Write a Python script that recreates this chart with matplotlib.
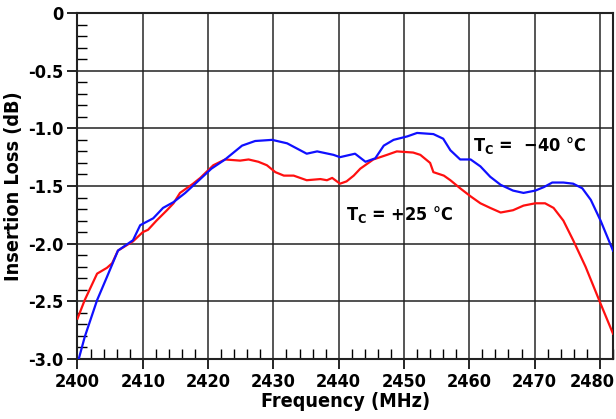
import matplotlib
matplotlib.use("Agg")
import matplotlib.pyplot as plt
import matplotlib.transforms as mtransforms
from matplotlib.ticker import MultipleLocator, FixedLocator

plt.rcParams['font.family'] = ['DejaVu Sans']
plt.rcParams['font.stretch'] = 'condensed'
plt.rcParams['font.weight'] = 'bold'
plt.rcParams['axes.unicode_minus'] = False
plt.rcParams['mathtext.default'] = 'regular'

# T_C = -40 C (blue)
freq_cold = [2400, 2401.1, 2403, 2404.5, 2406.2, 2408.5, 2409.6, 2411.6, 2413.1, 2414.7,
             2416.5, 2418.8, 2420.5, 2422.6, 2425.2, 2427.2, 2429.8, 2432.1, 2434.1, 2435.1,
             2436.7, 2439.2, 2440.2, 2442.5, 2444.1, 2445.6, 2446.9, 2448.4, 2450.5, 2452,
             2454.5, 2456, 2457.1, 2458.6, 2460.2, 2461.7, 2463.2, 2464.8, 2466.7, 2468.3,
             2470.1, 2471.4, 2472.7, 2474.4, 2475.9, 2477.3, 2478.6, 2480.1, 2482]
loss_cold = [-3.04, -2.81, -2.49, -2.29, -2.06, -1.97, -1.84, -1.78, -1.69, -1.64,
             -1.56, -1.44, -1.35, -1.27, -1.15, -1.11, -1.10, -1.13, -1.19, -1.22,
             -1.20, -1.23, -1.25, -1.22, -1.29, -1.26, -1.15, -1.10, -1.07, -1.04,
             -1.05, -1.09, -1.19, -1.27, -1.27, -1.33, -1.42, -1.49, -1.54, -1.56,
             -1.54, -1.51, -1.47, -1.47, -1.48, -1.52, -1.62, -1.80, -2.06]

# T_C = +25 C (red)
freq_hot = [2400, 2401.1, 2403, 2404.5, 2405.3, 2406.2, 2408.5, 2410, 2410.8, 2412.1,
            2413.7, 2414.7, 2415.7, 2417.7, 2418.8, 2420.8, 2422.6, 2424.9, 2426.2, 2427.7,
            2429, 2430.3, 2431.6, 2433.1, 2435.1, 2437.2, 2438.2, 2439, 2440.2, 2441.2,
            2442.3, 2443.3, 2445.3, 2447.4, 2448.9, 2451.4, 2452.5, 2454, 2454.5, 2456.1,
            2457.1, 2458.6, 2460.2, 2461.7, 2463.2, 2464.8, 2466.7, 2468.3, 2470.1, 2471.6,
            2472.9, 2474.4, 2475.9, 2477.8, 2480.1, 2482]
loss_hot = [-2.65, -2.49, -2.26, -2.21, -2.17, -2.06, -1.98, -1.90, -1.88, -1.80,
            -1.71, -1.65, -1.56, -1.48, -1.43, -1.32, -1.27, -1.28, -1.27, -1.29,
            -1.32, -1.38, -1.41, -1.41, -1.45, -1.44, -1.45, -1.43, -1.48, -1.46,
            -1.41, -1.35, -1.27, -1.23, -1.20, -1.21, -1.23, -1.30, -1.38, -1.41,
            -1.45, -1.52, -1.59, -1.65, -1.69, -1.73, -1.71, -1.67, -1.65, -1.65,
            -1.69, -1.80, -1.97, -2.20, -2.52, -2.78]

x_ticks = [2400, 2410, 2420, 2430, 2440, 2450, 2460, 2470, 2480]
y_ticks = [0, -0.5, -1.0, -1.5, -2.0, -2.5, -3.0]
y_tick_labels = ['0', '-0.5', '-1.0', '-1.5', '-2.0', '-2.5', '-3.0']

fig = plt.figure(figsize=(6.16, 4.19), dpi=100)
ax = fig.add_axes([0.1258, 0.1432, 0.8693, 0.8258])

ax.plot(freq_hot, loss_hot, color='#ff1010', linewidth=1.6, zorder=3)
ax.plot(freq_cold, loss_cold, color='#1010ff', linewidth=1.6, zorder=4)

ax.set_xlim(2400, 2482)
ax.set_ylim(-3.0, 0)

ax.xaxis.set_major_locator(FixedLocator(x_ticks))
ax.yaxis.set_major_locator(FixedLocator(y_ticks))
ax.set_xticklabels([str(t) for t in x_ticks])
ax.set_yticklabels(y_tick_labels)
ax.xaxis.set_minor_locator(MultipleLocator(2))
ax.yaxis.set_minor_locator(MultipleLocator(0.1))

ax.tick_params(which='major', direction='out', length=7, width=1.2, labelsize=13, pad=3)
ax.tick_params(which='minor', direction='in', length=7, width=1.0)
ax.tick_params(top=False, right=False, which='both')

# last x label sits a little left so it stays inside the picture
last = ax.get_xticklabels()[-1]
last.set_transform(last.get_transform() + mtransforms.ScaledTranslation(-8 / 100, 0, fig.dpi_scale_trans))

ax.grid(True, which='major', axis='y', color='#222222', linewidth=1.1)
ax.grid(True, which='major', axis='x', color='#555555', linewidth=1.4)
ax.set_axisbelow(True)

for spine in ax.spines.values():
    spine.set_linewidth(1.5)
    spine.set_color('#222222')

ax.set_xlabel('Frequency (MHz)', fontsize=14.2, fontweight='bold', labelpad=1)
ax.set_ylabel('Insertion Loss (dB)', fontsize=14.2, fontweight='bold', labelpad=4)

ax.text(2460.6, -1.15, r'T$_{C}$ =  −40 °C', fontsize=13, fontweight='bold',
        ha='left', va='center')
ax.text(2441.1, -1.75, r'T$_{C}$ = +25 °C', fontsize=13, fontweight='bold',
        ha='left', va='center')

fig.savefig('out.png', dpi=100)
